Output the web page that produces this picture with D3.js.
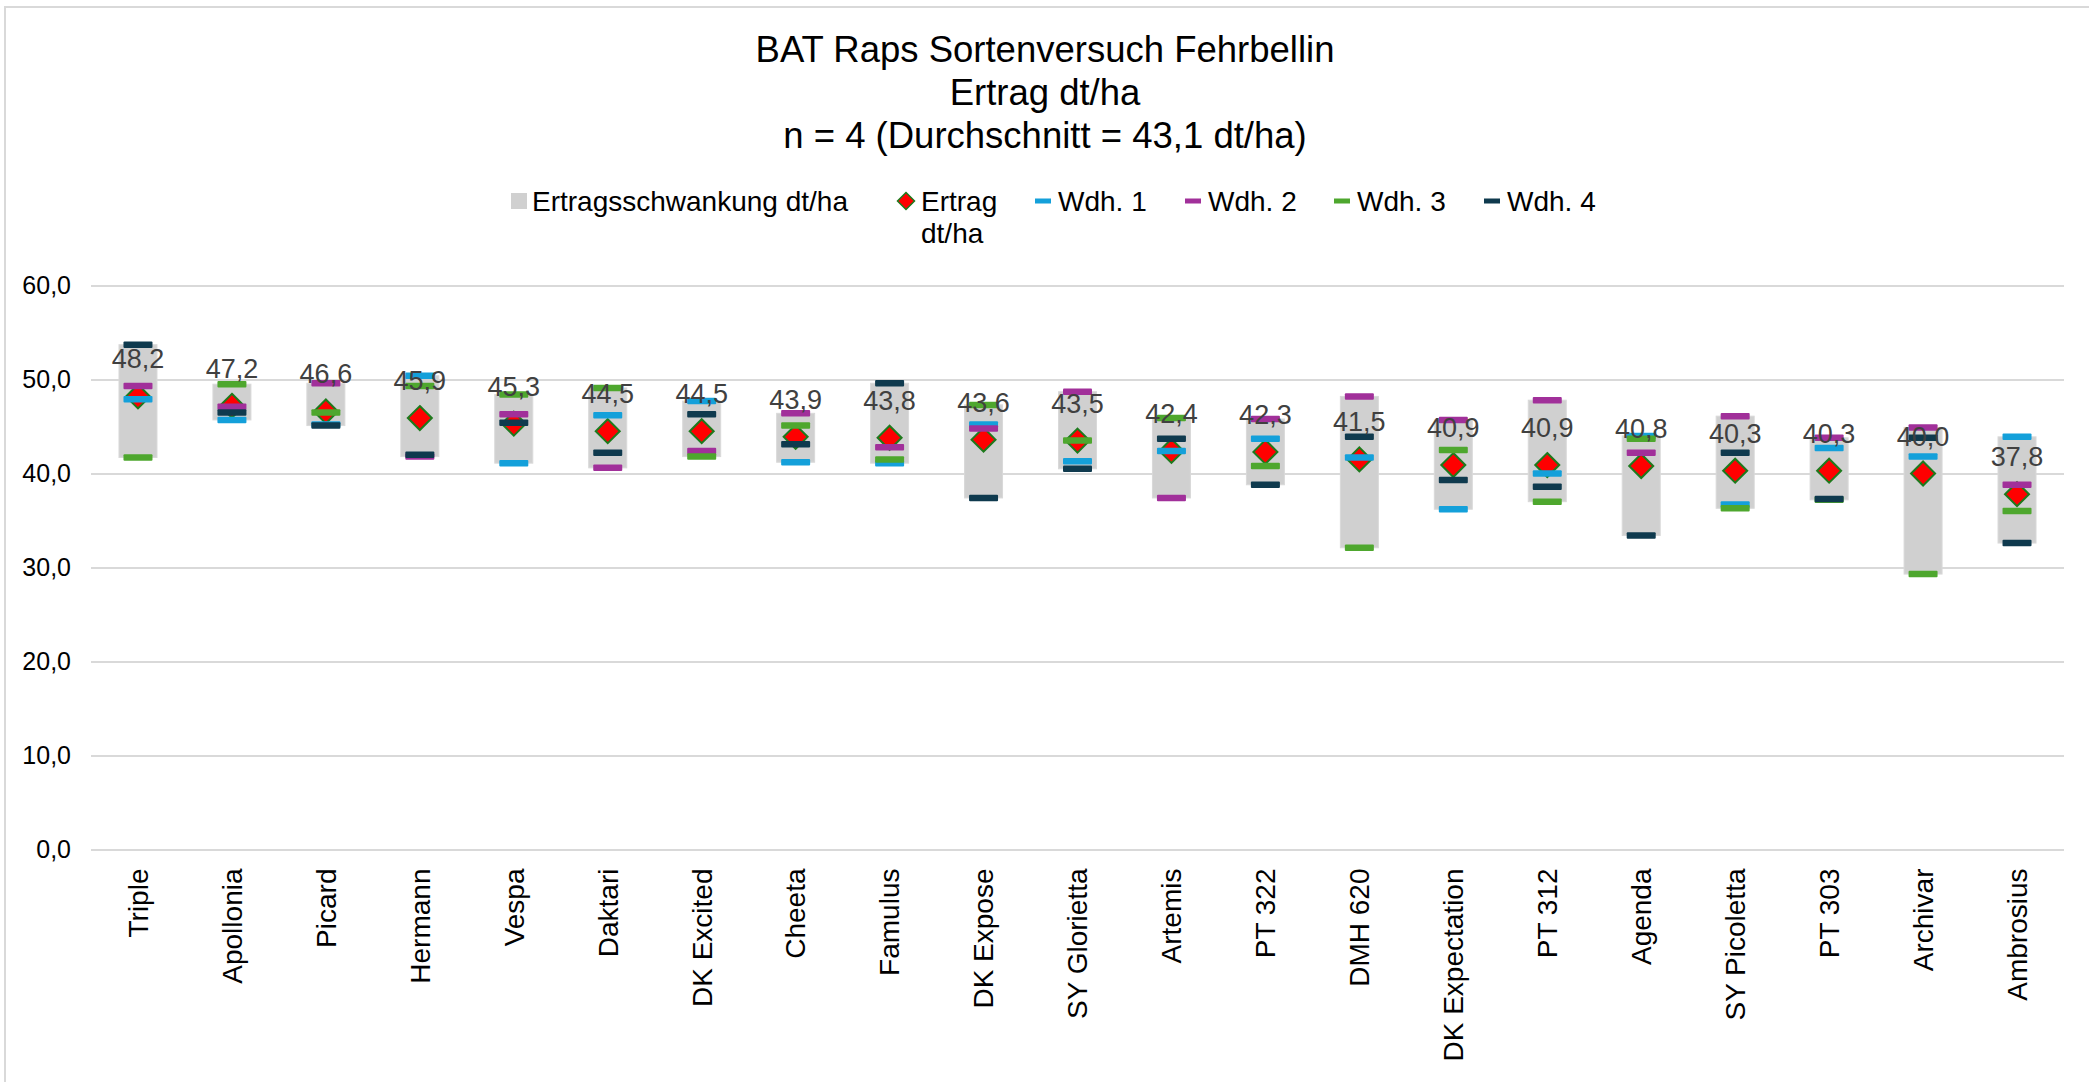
<!DOCTYPE html>
<html>
<head>
<meta charset="utf-8">
<script src="https://cdn.jsdelivr.net/npm/d3@7"></script>
<style>
  body { margin: 0; background: #fff; }
  svg { display: block; font-family: "Liberation Sans", Arial, sans-serif; }
</style>
</head>
<body>
<svg id="main-svg" width="2089" height="1082"></svg>
<script>
const categories = ["Triple", "Apollonia", "Picard", "Hermann", "Vespa", "Daktari", "DK Excited", "Cheeta",
  "Famulus", "DK Expose", "SY Glorietta", "Artemis", "PT 322", "DMH 620", "DK Expectation", "PT 312",
  "Agenda", "SY Picoletta", "PT 303", "Archivar", "Ambrosius"];

const ertrag = [48.2, 47.2, 46.6, 45.9, 45.3, 44.5, 44.5, 43.9, 43.8, 43.6, 43.5, 42.4, 42.3, 41.5,
  40.9, 40.9, 40.8, 40.3, 40.3, 40.0, 37.8];
const wdh1 = [47.9, 45.7, 45.2, 50.4, 41.1, 46.2, 47.7, 41.2, 41.1, 45.2, 41.3, 42.4, 43.7, 41.7,
  36.2, 40.0, 44.0, 36.7, 42.7, 41.8, 43.9];
const wdh2 = [49.3, 47.1, 49.6, 41.8, 46.3, 40.6, 42.4, 46.4, 42.8, 44.8, 48.7, 37.4, 45.8, 48.2,
  45.7, 47.8, 42.2, 46.1, 43.8, 44.9, 38.8];
const wdh3 = [41.7, 49.5, 46.5, 49.3, 48.4, 49.1, 41.8, 45.1, 41.5, 47.3, 43.5, 45.9, 40.8, 32.1,
  42.5, 37.0, 43.7, 36.3, 37.2, 29.3, 36.0];
const wdh4 = [53.7, 46.5, 45.1, 42.0, 45.4, 42.2, 46.3, 43.1, 49.6, 37.4, 40.5, 43.7, 38.8, 43.9,
  39.3, 38.6, 33.4, 42.2, 37.3, 43.8, 32.6];
const yTicks = [0, 10, 20, 30, 40, 50, 60];

const titleLines = ["BAT Raps Sortenversuch Fehrbellin", "Ertrag dt/ha", "n = 4 (Durchschnitt = 43,1 dt/ha)"];

const wdhSeries = [
  {name: "Wdh. 1", values: wdh1, color: "#14a0da"},
  {name: "Wdh. 2", values: wdh2, color: "#a1309a"},
  {name: "Wdh. 3", values: wdh3, color: "#4ea72e"},
  {name: "Wdh. 4", values: wdh4, color: "#0f3a4e"}
];

const fmt = v => d3.format(".1f")(v).replace(".", ",");

const svg = d3.select("#main-svg");
const margin = {top: 285.5, left: 91, right: 25, bottom: 232.5};
const width = 2089, height = 1082;

// chart frame (only top and left edges are inside the picture)
svg.append("rect")
  .attr("x", 5).attr("y", 7)
  .attr("width", 2100).attr("height", 1100)
  .attr("fill", "none").attr("stroke", "#d9d9d9").attr("stroke-width", 2);

const x = d3.scaleBand()
  .domain(categories)
  .range([margin.left, width - margin.right])
  .paddingInner(0).paddingOuter(0);

const y = d3.scaleLinear()
  .domain([0, 60])
  .range([height - margin.bottom, margin.top]);

// title
svg.append("g")
  .selectAll("text")
  .data(titleLines)
  .join("text")
  .attr("x", 1045)
  .attr("y", (d, i) => 62 + i * 43)
  .attr("text-anchor", "middle")
  .attr("font-size", 36.5)
  .attr("fill", "#000")
  .text(d => d);

// gridlines + y axis
const yAxis = svg.append("g")
  .attr("transform", `translate(${margin.left},0)`)
  .call(d3.axisLeft(y).tickValues(yTicks).tickSize(-(width - margin.left - margin.right)).tickFormat(fmt).tickPadding(20));
yAxis.select(".domain").remove();
yAxis.selectAll(".tick line").attr("stroke", "#d9d9d9").attr("stroke-width", 2);
yAxis.selectAll(".tick text").attr("font-size", 25).attr("fill", "#000").attr("font-family", null);

// x axis labels
const xAxis = svg.append("g")
  .attr("transform", `translate(0,${y(0)})`)
  .call(d3.axisBottom(x).tickSize(0).tickPadding(0));
xAxis.select(".domain").remove();
xAxis.selectAll(".tick text")
  .attr("font-size", 28)
  .attr("fill", "#000")
  .attr("font-family", null)
  .attr("text-anchor", "end")
  .attr("transform", "rotate(-90)")
  .attr("x", -19)
  .attr("y", 0)
  .attr("dy", "0.35em");

const idx = d3.range(categories.length);
const lo = i => d3.min(wdhSeries, s => s.values[i]);
const hi = i => d3.max(wdhSeries, s => s.values[i]);

// floating bars (Ertragsschwankung)
const barW = 38;
svg.append("g")
  .selectAll("rect")
  .data(idx)
  .join("rect")
  .attr("x", i => x(categories[i]) + x.bandwidth() / 2 - barW / 2)
  .attr("y", i => y(hi(i)))
  .attr("width", barW)
  .attr("height", i => y(lo(i)) - y(hi(i)))
  .attr("fill", "#d0d0d0")
  .attr("stroke", "#d9d9d9")
  .attr("stroke-width", 1);

// mean diamonds
const diamond = (cx, cy, r) => `M${cx},${cy - r}L${cx + r},${cy}L${cx},${cy + r}L${cx - r},${cy}Z`;
svg.append("g")
  .selectAll("path")
  .data(idx)
  .join("path")
  .attr("d", i => diamond(x(categories[i]) + x.bandwidth() / 2, y(ertrag[i]), 12))
  .attr("fill", "#ff0000")
  .attr("stroke", "#1d7a1d")
  .attr("stroke-width", 2);

// replicate dashes
const dashW = 29, dashH = 6.5;
wdhSeries.forEach(s => {
  svg.append("g")
    .selectAll("rect")
    .data(idx)
    .join("rect")
    .attr("x", i => x(categories[i]) + x.bandwidth() / 2 - dashW / 2)
    .attr("y", i => y(s.values[i]) - dashH / 2)
    .attr("width", dashW)
    .attr("height", dashH)
    .attr("rx", 1)
    .attr("fill", s.color);
});

// value labels
svg.append("g")
  .selectAll("text")
  .data(idx)
  .join("text")
  .attr("x", i => x(categories[i]) + x.bandwidth() / 2)
  .attr("y", i => y(ertrag[i]) - 28)
  .attr("text-anchor", "middle")
  .attr("font-size", 27)
  .attr("fill", "#404040")
  .text(i => fmt(ertrag[i]));

// legend
const legend = svg.append("g").attr("font-size", 28);
const legY = 201;
legend.append("rect").attr("x", 511).attr("y", legY - 8).attr("width", 16).attr("height", 16).attr("fill", "#d0d0d0");
legend.append("text").attr("x", 532).attr("y", legY + 10).text("Ertragsschwankung dt/ha");
legend.append("path").attr("d", diamond(906, legY, 8.5)).attr("fill", "#ff0000").attr("stroke", "#1d7a1d").attr("stroke-width", 1.5);
legend.append("text").attr("x", 921).attr("y", legY + 10).text("Ertrag");
legend.append("text").attr("x", 921).attr("y", legY + 42).text("dt/ha");
const legX = [1035, 1185, 1334, 1484];
wdhSeries.forEach((s, k) => {
  legend.append("rect").attr("x", legX[k]).attr("y", legY - 2.5).attr("width", 16).attr("height", 5).attr("fill", s.color);
  legend.append("text").attr("x", legX[k] + 23).attr("y", legY + 10).text(s.name);
});
</script>
</body>
</html>
